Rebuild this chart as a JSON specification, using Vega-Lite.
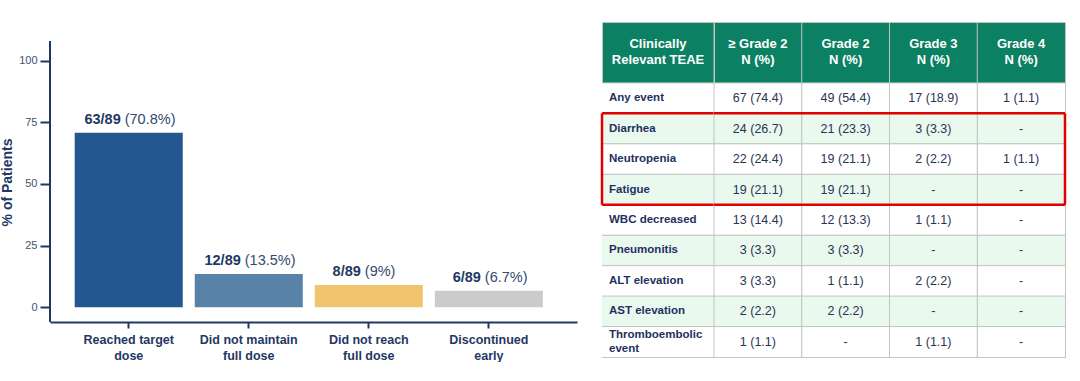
{
  "$schema": "https://vega.github.io/schema/vega-lite/v6.json",
  "padding": {"left": 0, "top": 21, "right": 0, "bottom": 0},
  "background": "white",
  "spacing": 23,
  "config": {"view": {"stroke": null}, "font": "Liberation Sans"},
  "datasets": {
    "bars": [
      {"outcome": "Reached target dose", "count": "63/89", "pct": 70.8, "pctText": "(70.8%)"},
      {"outcome": "Did not maintain full dose", "count": "12/89", "pct": 13.5, "pctText": "(13.5%)"},
      {"outcome": "Did not reach full dose", "count": "8/89", "pct": 9, "pctText": "(9%)"},
      {"outcome": "Discontinued early", "count": "6/89", "pct": 6.7, "pctText": "(6.7%)"}
    ],
    "axisLine": [{"x": 0, "from": -6, "to": 108}],
    "header": [
      {"col": "TEAE", "label": "Clinically\nRelevant TEAE"},
      {"col": "≥ Grade 2", "label": "≥ Grade 2\nN (%)"},
      {"col": "Grade 2", "label": "Grade 2\nN (%)"},
      {"col": "Grade 3", "label": "Grade 3\nN (%)"},
      {"col": "Grade 4", "label": "Grade 4\nN (%)"}
    ],
    "cells": [
      {"teae": "Any event", "grade": "≥ Grade 2", "value": "67 (74.4)"},
      {"teae": "Any event", "grade": "Grade 2", "value": "49 (54.4)"},
      {"teae": "Any event", "grade": "Grade 3", "value": "17 (18.9)"},
      {"teae": "Any event", "grade": "Grade 4", "value": "1 (1.1)"},
      {"teae": "Diarrhea", "grade": "≥ Grade 2", "value": "24 (26.7)"},
      {"teae": "Diarrhea", "grade": "Grade 2", "value": "21 (23.3)"},
      {"teae": "Diarrhea", "grade": "Grade 3", "value": "3 (3.3)"},
      {"teae": "Diarrhea", "grade": "Grade 4", "value": "-"},
      {"teae": "Neutropenia", "grade": "≥ Grade 2", "value": "22 (24.4)"},
      {"teae": "Neutropenia", "grade": "Grade 2", "value": "19 (21.1)"},
      {"teae": "Neutropenia", "grade": "Grade 3", "value": "2 (2.2)"},
      {"teae": "Neutropenia", "grade": "Grade 4", "value": "1 (1.1)"},
      {"teae": "Fatigue", "grade": "≥ Grade 2", "value": "19 (21.1)"},
      {"teae": "Fatigue", "grade": "Grade 2", "value": "19 (21.1)"},
      {"teae": "Fatigue", "grade": "Grade 3", "value": "-"},
      {"teae": "Fatigue", "grade": "Grade 4", "value": "-"},
      {"teae": "WBC decreased", "grade": "≥ Grade 2", "value": "13 (14.4)"},
      {"teae": "WBC decreased", "grade": "Grade 2", "value": "12 (13.3)"},
      {"teae": "WBC decreased", "grade": "Grade 3", "value": "1 (1.1)"},
      {"teae": "WBC decreased", "grade": "Grade 4", "value": "-"},
      {"teae": "Pneumonitis", "grade": "≥ Grade 2", "value": "3 (3.3)"},
      {"teae": "Pneumonitis", "grade": "Grade 2", "value": "3 (3.3)"},
      {"teae": "Pneumonitis", "grade": "Grade 3", "value": "-"},
      {"teae": "Pneumonitis", "grade": "Grade 4", "value": "-"},
      {"teae": "ALT elevation", "grade": "≥ Grade 2", "value": "3 (3.3)"},
      {"teae": "ALT elevation", "grade": "Grade 2", "value": "1 (1.1)"},
      {"teae": "ALT elevation", "grade": "Grade 3", "value": "2 (2.2)"},
      {"teae": "ALT elevation", "grade": "Grade 4", "value": "-"},
      {"teae": "AST elevation", "grade": "≥ Grade 2", "value": "2 (2.2)"},
      {"teae": "AST elevation", "grade": "Grade 2", "value": "2 (2.2)"},
      {"teae": "AST elevation", "grade": "Grade 3", "value": "-"},
      {"teae": "AST elevation", "grade": "Grade 4", "value": "-"},
      {"teae": "Thromboembolic\nevent", "grade": "≥ Grade 2", "value": "1 (1.1)"},
      {"teae": "Thromboembolic\nevent", "grade": "Grade 2", "value": "-"},
      {"teae": "Thromboembolic\nevent", "grade": "Grade 3", "value": "1 (1.1)"},
      {"teae": "Thromboembolic\nevent", "grade": "Grade 4", "value": "-"}
    ]
  },
  "hconcat": [
    {
      "width": 527,
      "height": 300,
      "resolve": {"scale": {"x": "independent"}, "axis": {"x": "independent"}},
      "layer": [
        {
          "data": {"name": "bars"},
          "encoding": {
            "x": {
              "field": "outcome", "type": "nominal", "sort": null,
              "scale": {"paddingInner": 0.1, "paddingOuter": 0.245, "align": 0.42},
              "axis": {
                "title": null, "labelAngle": 0,
                "labelExpr": "datum.value == 'Reached target dose' ? ['Reached target', 'dose'] : datum.value == 'Did not maintain full dose' ? ['Did not maintain', 'full dose'] : datum.value == 'Did not reach full dose' ? ['Did not reach', 'full dose'] : ['Discontinued', 'early']",
                "labelFontSize": 12.5, "labelFontWeight": "bold", "labelColor": "#1f3864",
                "labelLineHeight": 16, "labelPadding": 5,
                "domainColor": "#1f3864", "domainWidth": 2,
                "tickColor": "#1f3864", "tickWidth": 2, "tickSize": 6
              }
            }
          },
          "layer": [
            {
              "mark": {"type": "bar"},
              "encoding": {
                "y": {
                  "field": "pct", "type": "quantitative",
                  "scale": {"domain": [-6, 115.7], "nice": false, "zero": false},
                  "axis": {
                    "values": [0, 25, 50, 75, 100], "grid": false, "domain": false,
                    "title": "% of Patients", "titleFontSize": 14, "titleFontWeight": "bold",
                    "titleColor": "#1f3864", "titlePadding": 4, "titleY": 160,
                    "labelFontSize": 11, "labelColor": "#44506e", "labelPadding": 3,
                    "tickColor": "#1f3864", "tickWidth": 2, "tickSize": 10
                  }
                },
                "y2": {"datum": 0},
                "color": {
                  "field": "outcome", "type": "nominal", "legend": null,
                  "scale": {
                    "domain": ["Reached target dose", "Did not maintain full dose", "Did not reach full dose", "Discontinued early"],
                    "range": ["#22578f", "#5882a8", "#f0c56e", "#cbcbcb"]
                  }
                }
              }
            },
            {
              "mark": {"type": "text", "align": "right", "baseline": "alphabetic", "dx": -8, "dy": -9, "fontSize": 14.5, "fontWeight": "bold", "color": "#1f3864"},
              "encoding": {"y": {"field": "pct", "type": "quantitative"}, "text": {"field": "count"}}
            },
            {
              "mark": {"type": "text", "align": "left", "baseline": "alphabetic", "dx": -4, "dy": -9, "fontSize": 14.5, "color": "#34496f"},
              "encoding": {"y": {"field": "pct", "type": "quantitative"}, "text": {"field": "pctText"}}
            }
          ]
        },
        {
          "data": {"name": "axisLine"},
          "mark": {"type": "rule", "color": "#1f3864", "strokeWidth": 2},
          "encoding": {
            "x": {"field": "x", "type": "quantitative", "scale": {"domain": [0, 1]}, "axis": null},
            "y": {"field": "from", "type": "quantitative"},
            "y2": {"field": "to"}
          }
        }
      ]
    },
    {
      "spacing": 0,
      "bounds": "flush",
      "hconcat": [
        {
          "width": 112,
          "height": 335,
          "view": {"fill": "#0b8062", "stroke": "#c4c4c4"},
          "layer": [
            {
              "data": {"name": "cells"},
              "transform": [{"filter": "datum.grade == 'Grade 2'"}],
              "mark": {"type": "rect"},
              "encoding": {
                "y": {"field": "teae", "type": "nominal", "axis": null,
                  "scale": {"type": "band", "paddingInner": 0, "paddingOuter": 0,
                    "domain": ["h1", "h2", "Any event", "Diarrhea", "Neutropenia", "Fatigue", "WBC decreased", "Pneumonitis", "ALT elevation", "AST elevation", "Thromboembolic\nevent"]}},
                "color": {
                  "condition": {"test": "indexof(['Diarrhea','Fatigue','Pneumonitis','AST elevation'], datum.teae) >= 0", "value": "#e9f9ee"},
                  "value": "#ffffff"
                }
              }
            },
            {
              "data": {"name": "cells"},
              "transform": [{"filter": "datum.grade == 'Grade 2'"}],
              "mark": {"type": "rule", "color": "#c4c4c4", "strokeWidth": 1},
              "encoding": {"y": {"field": "teae", "type": "nominal", "bandPosition": 0}}
            },
            {
              "data": {"name": "cells"},
              "transform": [{"filter": "datum.grade == 'Grade 2' && indexof(datum.teae, 'Thrombo') < 0"}],
              "mark": {"type": "text", "align": "left", "baseline": "middle", "dx": 7, "fontSize": 11.5, "fontWeight": "bold", "color": "#1f3060"},
              "encoding": {
                "x": {"datum": "TEAE", "bandPosition": 0, "axis": null, "scale": {"type": "band", "domain": ["TEAE"], "paddingInner": 0, "paddingOuter": 0}},
                "y": {"field": "teae", "type": "nominal"},
                "text": {"field": "teae"}
              }
            },
            {
              "data": {"name": "cells"},
              "transform": [{"filter": "datum.grade == 'Grade 2' && indexof(datum.teae, 'Thrombo') >= 0"}],
              "mark": {"type": "text", "align": "left", "baseline": "middle", "dx": 7, "dy": -7, "fontSize": 11.5, "fontWeight": "bold", "color": "#1f3060", "lineBreak": "\n", "lineHeight": 14},
              "encoding": {
                "x": {"datum": "TEAE", "bandPosition": 0},
                "y": {"field": "teae", "type": "nominal"},
                "text": {"field": "teae"}
              }
            },
            {
              "data": {"name": "header"},
              "transform": [{"filter": "datum.col == 'TEAE'"}],
              "mark": {"type": "text", "align": "center", "baseline": "middle", "dy": -8, "fontSize": 13, "fontWeight": "bold", "color": "white", "lineBreak": "\n", "lineHeight": 16},
              "encoding": {
                "x": {"datum": "TEAE", "bandPosition": 0.5},
                "y": {"datum": "h1", "bandPosition": 1},
                "text": {"field": "label"}
              }
            },
            {
              "data": {"values": [{}]},
              "mark": {"type": "rule", "color": "#e00000", "strokeWidth": 2.5},
              "encoding": {"y": {"datum": "Diarrhea", "bandPosition": 0}}
            },
            {
              "data": {"values": [{}]},
              "mark": {"type": "rule", "color": "#e00000", "strokeWidth": 2.5},
              "encoding": {"y": {"datum": "WBC decreased", "bandPosition": 0}}
            },
            {
              "data": {"values": [{}]},
              "mark": {"type": "rule", "color": "#e00000", "strokeWidth": 2.5},
              "encoding": {
                "x": {"datum": "TEAE", "bandPosition": 0},
                "y": {"datum": "Diarrhea", "bandPosition": 0},
                "y2": {"datum": "WBC decreased", "bandPosition": 0}
              }
            }
          ]
        },
        {
          "width": 351,
          "height": 335,
          "view": {"fill": "#0b8062", "stroke": "#c4c4c4"},
          "layer": [
            {
              "data": {"name": "cells"},
              "mark": {"type": "rect"},
              "encoding": {
                "x": {"field": "grade", "type": "nominal", "axis": null,
                  "scale": {"type": "band", "paddingInner": 0, "paddingOuter": 0, "domain": ["≥ Grade 2", "Grade 2", "Grade 3", "Grade 4"]}},
                "y": {"field": "teae", "type": "nominal", "axis": null,
                  "scale": {"type": "band", "paddingInner": 0, "paddingOuter": 0,
                    "domain": ["h1", "h2", "Any event", "Diarrhea", "Neutropenia", "Fatigue", "WBC decreased", "Pneumonitis", "ALT elevation", "AST elevation", "Thromboembolic\nevent"]}},
                "color": {
                  "condition": {"test": "indexof(['Diarrhea','Fatigue','Pneumonitis','AST elevation'], datum.teae) >= 0", "value": "#e9f9ee"},
                  "value": "#ffffff"
                }
              }
            },
            {
              "data": {"name": "cells"},
              "transform": [{"filter": "datum.grade == 'Grade 2'"}],
              "mark": {"type": "rule", "color": "#c4c4c4", "strokeWidth": 1},
              "encoding": {"y": {"field": "teae", "type": "nominal", "bandPosition": 0}}
            },
            {
              "data": {"name": "header"},
              "transform": [{"filter": "datum.col != 'TEAE'"}],
              "mark": {"type": "rule", "color": "#c4c4c4", "strokeWidth": 1},
              "encoding": {"x": {"field": "col", "type": "nominal", "bandPosition": 0}}
            },
            {
              "data": {"name": "cells"},
              "mark": {"type": "text", "align": "center", "baseline": "middle", "fontSize": 12.5, "color": "#2a3452"},
              "encoding": {
                "x": {"field": "grade", "type": "nominal"},
                "y": {"field": "teae", "type": "nominal"},
                "text": {"field": "value"}
              }
            },
            {
              "data": {"name": "header"},
              "transform": [{"filter": "datum.col != 'TEAE'"}],
              "mark": {"type": "text", "align": "center", "baseline": "middle", "dy": -8, "fontSize": 13, "fontWeight": "bold", "color": "white", "lineBreak": "\n", "lineHeight": 16},
              "encoding": {
                "x": {"field": "col", "type": "nominal"},
                "y": {"datum": "h1", "bandPosition": 1},
                "text": {"field": "label"}
              }
            },
            {
              "data": {"values": [{}]},
              "mark": {"type": "rule", "color": "#e00000", "strokeWidth": 2.5},
              "encoding": {"y": {"datum": "Diarrhea", "bandPosition": 0}}
            },
            {
              "data": {"values": [{}]},
              "mark": {"type": "rule", "color": "#e00000", "strokeWidth": 2.5},
              "encoding": {"y": {"datum": "WBC decreased", "bandPosition": 0}}
            },
            {
              "data": {"values": [{}]},
              "mark": {"type": "rule", "color": "#e00000", "strokeWidth": 2.5},
              "encoding": {
                "x": {"datum": "Grade 4", "bandPosition": 1},
                "y": {"datum": "Diarrhea", "bandPosition": 0},
                "y2": {"datum": "WBC decreased", "bandPosition": 0}
              }
            }
          ]
        }
      ]
    }
  ]
}
